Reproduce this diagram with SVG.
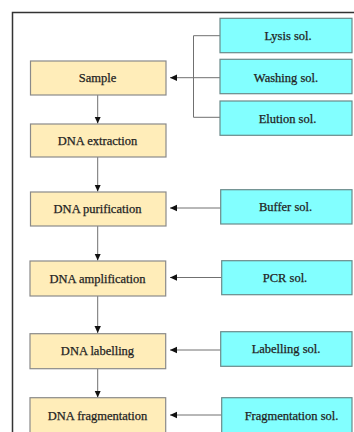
<svg xmlns="http://www.w3.org/2000/svg" width="354" height="432" viewBox="0 0 354 432">
<style>
.step{fill:#FFEDB9;stroke:#8a8a8a;stroke-width:1.2}
.sol{fill:#82FFFF;stroke:#6a8a8a;stroke-width:1.2}
text{font-family:"Liberation Serif","Times New Roman",serif;font-size:12.5px;fill:#222;text-anchor:middle;stroke:#222;stroke-width:0.25}
.c{fill:none;stroke:#707070;stroke-width:1}
</style>
<defs>
<marker id="ah" markerWidth="8" markerHeight="8" refX="7" refY="4" orient="auto" markerUnits="userSpaceOnUse">
<path d="M0,0.8 L7,4 L0,7.2 Z" fill="#111"/>
</marker>
</defs>
<rect width="354" height="432" fill="#fff"/>
<path d="M12.5,432 V12.5 H354" fill="none" stroke="#333" stroke-width="1.5"/>
<g id="connectors">
<path class="c" d="M220,35.7 H193.5 V117.3 H220"/>
<path class="c" d="M220,77.7 H170" marker-end="url(#ah)"/>
<path class="c" d="M220.7,208 H170" marker-end="url(#ah)"/>
<path class="c" d="M221.7,277.5 H170" marker-end="url(#ah)"/>
<path class="c" d="M220.7,350 H170" marker-end="url(#ah)"/>
<path class="c" d="M221.7,415 H170" marker-end="url(#ah)"/>
<path class="c" d="M97.7,95 V123.5" marker-end="url(#ah)"/>
<path class="c" d="M97.7,157 V191.5" marker-end="url(#ah)"/>
<path class="c" d="M97.7,226 V260.5" marker-end="url(#ah)"/>
<path class="c" d="M97.7,296 V333" marker-end="url(#ah)"/>
<path class="c" d="M97.7,369 V397.5" marker-end="url(#ah)"/>
</g>
<g id="sample"><rect class="step" x="30.5" y="61" width="135.5" height="34"/><text x="97.5" y="82">Sample</text></g>
<g id="extraction"><rect class="step" x="30.5" y="124" width="135.5" height="33"/><text x="97.5" y="144.5">DNA extraction</text></g>
<g id="purification"><rect class="step" x="30.5" y="192" width="135.5" height="34"/><text x="97.5" y="213">DNA purification</text></g>
<g id="amplification"><rect class="step" x="30" y="261" width="135.7" height="35"/><text x="97.5" y="282.5">DNA amplification</text></g>
<g id="labelling"><rect class="step" x="30" y="333.7" width="135.7" height="35"/><text x="97.5" y="355">DNA labelling</text></g>
<g id="fragmentation"><rect class="step" x="30" y="397.7" width="135.7" height="36"/><text x="97.5" y="419.5">DNA fragmentation</text></g>
<g id="lysis"><rect class="sol" x="220" y="18.3" width="132" height="34.4"/><text x="288" y="40">Lysis sol.</text></g>
<g id="washing"><rect class="sol" x="220" y="59.3" width="132" height="34.4"/><text x="286" y="81.5">Washing sol.</text></g>
<g id="elution"><rect class="sol" x="220" y="101" width="132" height="34.3"/><text x="287.5" y="122.5">Elution sol.</text></g>
<g id="buffer"><rect class="sol" x="220.7" y="189.7" width="131.3" height="34.3"/><text x="285.5" y="211">Buffer sol.</text></g>
<g id="pcr"><rect class="sol" x="221.7" y="260.7" width="130.3" height="34"/><text x="285" y="282">PCR sol.</text></g>
<g id="labsol"><rect class="sol" x="220.7" y="331.7" width="131.3" height="34.6"/><text x="286" y="352.5">Labelling sol.</text></g>
<g id="fragsol"><rect class="sol" x="221.7" y="397.7" width="130.3" height="36"/><text x="291.5" y="419.5">Fragmentation sol.</text></g>
</svg>
